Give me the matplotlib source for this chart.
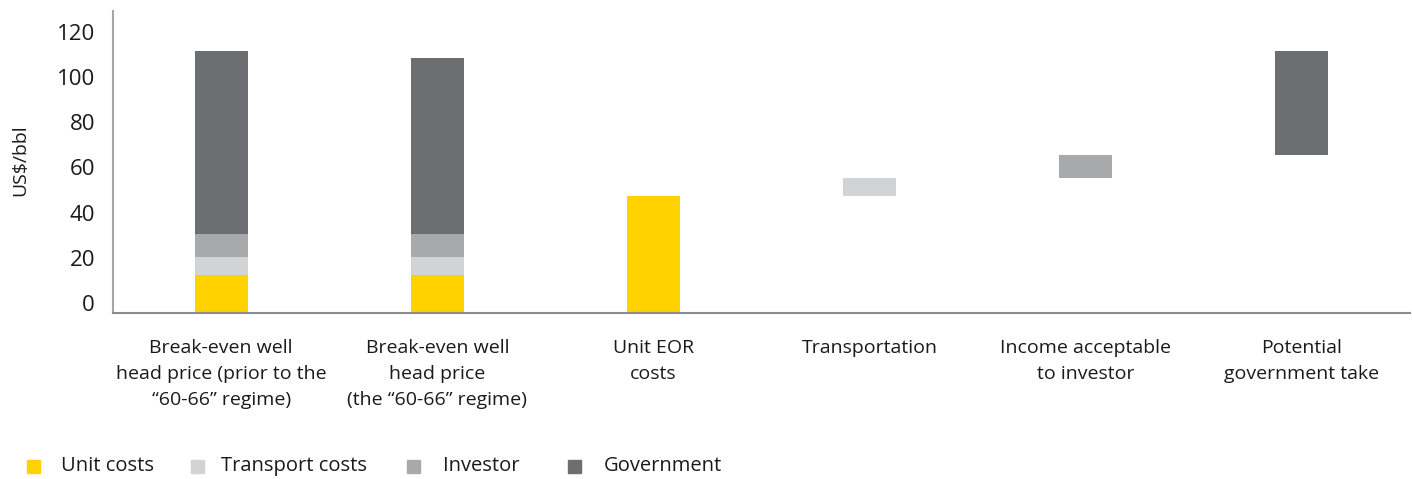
import matplotlib
matplotlib.use("Agg")
import matplotlib.pyplot as plt
from matplotlib.patches import Rectangle
from matplotlib.transforms import ScaledTranslation
import numpy as np

plt.rcParams['font.family'] = ['Open Sans', 'DejaVu Sans']

categories = [
    "Break-even well\nhead price (prior to the\n\u201c60-66\u201d regime)",
    "Break-even well\nhead price\n(the \u201c60-66\u201d regime)",
    "Unit EOR\ncosts",
    "Transportation",
    "Income acceptable\nto investor",
    "Potential\ngovernment take",
]
series_names = ["Unit costs", "Transport costs", "Investor", "Government"]
unit_costs = [17.0, 17.0, 52.0, 0.0, 0.0, 0.0]
transport_costs = [7.7, 7.7, 0.0, 7.7, 0.0, 0.0]
investor = [10.3, 10.3, 0.0, 0.0, 10.4, 0.0]
government = [80.9, 78.1, 0.0, 0.0, 0.0, 45.9]
waterfall = [False, False, False, True, True, True]
yticks = [0, 20, 40, 60, 80, 100, 120]

colors = ["#FFD200", "#D2D3D5", "#A8A9AB", "#6D6E71"]

fig = plt.figure(figsize=(14.12, 4.79), dpi=100)
ax = fig.add_axes([113/1412, (479-313)/479, (1410-113)/1412, (313-11)/479])

x = np.arange(len(categories))
u = np.array(unit_costs)
t = np.array(transport_costs)
inv = np.array(investor)
g = np.array(government)
wf = np.array(waterfall)
tops = u + t + inv + g

# waterfall columns float on the running total of the previous columns
base = np.zeros(len(x))
for i in range(len(x)):
    if wf[i]:
        base[i] = base[i - 1] + tops[i - 1]

bt = np.where(wf, base, u)
bi = np.where(wf, base, u + t)
bg = np.where(wf, base, u + t + inv)

w = 0.245
ax.bar(x, u, w, color=colors[0], label=series_names[0])
ax.bar(x, t, w, bottom=bt, color=colors[1], label=series_names[1])
ax.bar(x, inv, w, bottom=bi, color=colors[2], label=series_names[2])
ax.bar(x, g, w, bottom=bg, color=colors[3], label=series_names[3])

ax.set_xlim(-0.5, len(x) - 0.5)
ax.set_ylim(0, 133.7)
ax.set_yticks(yticks)
ax.set_yticklabels([str(v) for v in yticks], fontsize=16, color="#1a1a1a")
ax.set_xticks(x)
ax.set_xticklabels(categories, fontsize=14, color="#1a1a1a", linespacing=1.55)
ax.tick_params(axis='both', length=0)
ax.tick_params(axis='x', pad=19)
ax.tick_params(axis='y', pad=13)
off = ScaledTranslation(0, 0.10, fig.dpi_scale_trans)
for lab in ax.get_yticklabels():
    lab.set_transform(lab.get_transform() + off)

for s in ["top", "right"]:
    ax.spines[s].set_visible(False)
ax.spines["left"].set_color("#A6A6A6")
ax.spines["left"].set_linewidth(1.5)
ax.spines["bottom"].set_color("#8C8C8C")
ax.spines["bottom"].set_linewidth(1.5)

fig.text(20/1412, 1 - 160/479, "US$/bbl", rotation=90, ha="center", va="center",
         fontsize=14, color="#1a1a1a")

# legend
sq_x = [27, 191, 407, 568]
tx_x = [61, 221, 443, 604]
ly = 466
sq = 13
for i in range(4):
    fig.patches.append(Rectangle((sq_x[i]/1412, 1 - (ly + sq/2)/479), sq/1412, sq/479,
                                 transform=fig.transFigure, color=colors[i]))
    fig.text(tx_x[i]/1412, 1 - ly/479, series_names[i], ha="left", va="center",
             fontsize=14.5, color="#1a1a1a")

fig.savefig("out.png", dpi=100)
